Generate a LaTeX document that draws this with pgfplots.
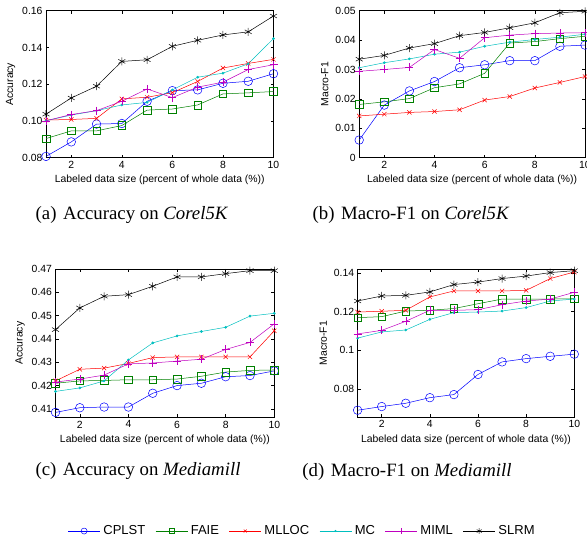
\documentclass[border=0pt]{standalone}
\usepackage{fontspec}
\setmainfont{Liberation Sans}
\newfontfamily\capfont{Liberation Serif}
\usepackage{pgfplots}
\usepackage{pgfplotstable}
\pgfplotsset{compat=1.18}

\definecolor{mgreen}{rgb}{0,0.5,0}
\definecolor{mcyan}{rgb}{0,0.75,0.75}
\definecolor{mmag}{rgb}{0.75,0,0.75}

% Corel5K accuracy
\pgfplotstableread{
x  cplst  faie   mlloc  mc     miml   slrm
1  0.0807 0.0904 0.1005 0.1001 0.1001 0.1037
2  0.0886 0.0946 0.1008 0.1032 0.1035 0.1125
3  0.0983 0.0946 0.1014 0.1056 0.1056 0.1189
4  0.0986 0.0975 0.1120 0.1087 0.1107 0.1324
5  0.1107 0.1059 0.1129 0.1101 0.1174 0.1333
6  0.1165 0.1065 0.1154 0.1169 0.1127 0.1406
7  0.1169 0.1087 0.1215 0.1238 0.1184 0.1439
8  0.1205 0.1147 0.1288 0.1260 0.1211 0.1468
9  0.1216 0.1153 0.1313 0.1311 0.1280 0.1485
10 0.1257 0.1160 0.1335 0.1448 0.1306 0.1571
}\corelacc
% Corel5K macro-F1
\pgfplotstableread{
x  cplst  faie   mlloc  mc     miml   slrm
1  0.0060 0.0181 0.0142 0.0306 0.0294 0.0335
2  0.0179 0.0190 0.0148 0.0323 0.0300 0.0348
3  0.0227 0.0201 0.0154 0.0336 0.0307 0.0373
4  0.0259 0.0238 0.0157 0.0352 0.0368 0.0388
5  0.0306 0.0251 0.0163 0.0359 0.0338 0.0415
6  0.0316 0.0287 0.0196 0.0379 0.0408 0.0426
7  0.0330 0.0390 0.0208 0.0393 0.0417 0.0442
8  0.0330 0.0395 0.0237 0.0402 0.0422 0.0459
9  0.0379 0.0405 0.0256 0.0410 0.0424 0.0493
10 0.0383 0.0413 0.0276 0.0420 0.0425 0.0498
}\corelf
% Mediamill accuracy
\pgfplotstableread{
x  cplst  faie   mlloc  mc     miml   slrm
1  0.4085 0.4210 0.4220 0.4175 0.4215 0.4440
2  0.4105 0.4220 0.4270 0.4190 0.4228 0.4533
3  0.4108 0.4222 0.4275 0.4220 0.4245 0.4583
4  0.4108 0.4225 0.4295 0.4310 0.4293 0.4590
5  0.4167 0.4225 0.4320 0.4383 0.4297 0.4626
6  0.4200 0.4228 0.4323 0.4413 0.4305 0.4666
7  0.4210 0.4240 0.4323 0.4432 0.4313 0.4666
8  0.4238 0.4258 0.4323 0.4450 0.4355 0.4680
9  0.4243 0.4265 0.4323 0.4498 0.4385 0.4693
10 0.4263 0.4267 0.4435 0.4510 0.4465 0.4693
}\mediaacc
% Mediamill macro-F1
\pgfplotstableread{
x  cplst  faie   mlloc  mc     miml   slrm
1  0.0690 0.1169 0.1198 0.1063 0.1085 0.1255
2  0.0709 0.1174 0.1202 0.1095 0.1103 0.1281
3  0.0726 0.1203 0.1207 0.1105 0.1150 0.1284
4  0.0755 0.1207 0.1276 0.1160 0.1207 0.1302
5  0.0771 0.1216 0.1307 0.1195 0.1207 0.1340
6  0.0875 0.1241 0.1307 0.1198 0.1210 0.1353
7  0.0940 0.1265 0.1307 0.1203 0.1236 0.1371
8  0.0957 0.1265 0.1310 0.1221 0.1255 0.1384
9  0.0969 0.1265 0.1371 0.1255 0.1265 0.1402
10 0.0980 0.1267 0.1405 0.1265 0.1300 0.1412
}\mediaf

\pgfplotsset{
  panel/.style={
    scale only axis, xmin=1, xmax=10, xtick={2,4,6,8,10},
    tick align=inside, major tick length=3pt,
    tick style={black, line width=0.4pt},
    axis line style={line width=0.4pt},
    scaled y ticks=false,
    /pgf/number format/assume math mode=true,
    ticklabel style={font=\fontsize{10.4}{12}\selectfont},
    label style={font=\fontsize{10.4}{12}\selectfont},
    xlabel={Labeled data size (percent of whole data (\%))},
    clip=false,
    legend image code/.code={
      \draw[mark repeat=2, mark phase=2, #1, every mark/.append style={scale=0.7}]
        plot coordinates {(0pt,0pt) (16pt,0pt) (32pt,0pt)};
    },
  },
  cplst/.style={blue, line width=0.5pt, mark=o, mark size=4.3pt, mark options={solid}},
  faie/.style={mgreen, line width=0.5pt, mark=square, mark size=3.8pt, mark options={solid}},
  mlloc/.style={red, line width=0.5pt, mark=x, mark size=3pt, mark options={solid}},
  mc/.style={mcyan, line width=0.5pt, mark=*, mark size=1.1pt, mark options={solid}},
  miml/.style={mmag, line width=0.5pt, mark=+, mark size=4pt, mark options={solid}},
  slrm/.style={black, line width=0.5pt, mark=asterisk, mark size=4pt, mark options={solid}},
}

\newcommand{\allseries}[1]{%
  \addplot[cplst] table[x=x, y=cplst] {#1};
  \addplot[faie] table[x=x, y=faie] {#1};
  \addplot[mlloc] table[x=x, y=mlloc] {#1};
  \addplot[mc] table[x=x, y=mc] {#1};
  \addplot[miml] table[x=x, y=miml] {#1};
  \addplot[slrm] table[x=x, y=slrm] {#1};
}

\begin{document}
\begin{tikzpicture}
\useasboundingbox (0pt,0pt) rectangle (587pt,541pt);

% (a)
\begin{axis}[panel, at={(46pt,530.3pt)}, anchor=north west,
  width=227.5pt, height=147pt,
  ymin=0.08, ymax=0.16, ytick={0.08,0.10,0.12,0.14,0.16},
  yticklabels={0.08,0.10,0.12,0.14,0.16}, ylabel={Accuracy}]
\allseries{\corelacc}
\end{axis}

% (b)
\begin{axis}[panel, at={(359.2pt,530.3pt)}, anchor=north west,
  width=225.8pt, height=147pt,
  ymin=0, ymax=0.05, ytick={0,0.01,0.02,0.03,0.04,0.05},
  yticklabels={0,0.01,0.02,0.03,0.04,0.05}, ylabel={Macro-F1}]
\allseries{\corelf}
\end{axis}

% (c)
\begin{axis}[panel, at={(55.5pt,272pt)}, anchor=north west,
  width=218.8pt, height=148.3pt,
  ymin=0.4064, ymax=0.47, ytick={0.41,0.42,0.43,0.44,0.45,0.46,0.47},
  yticklabels={0.41,0.42,0.43,0.44,0.45,0.46,0.47}, ylabel={Accuracy},
  legend columns=6,
  legend style={at={(1.13,-0.767)}, anchor=center, draw=none, fill=none,
    font=\fontsize{13}{15}\selectfont,
    nodes={inner xsep=3pt, inner ysep=1pt},
    /tikz/every even column/.append style={column sep=7pt}},
  legend cell align=left]
\allseries{\mediaacc}
\legend{CPLST, FAIE, MLLOC, MC, MIML, SLRM}
\end{axis}

% (d)
\begin{axis}[panel, at={(357.6pt,271.7pt)}, anchor=north west,
  width=216.7pt, height=147.7pt,
  ymin=0.0655, ymax=0.1419, ytick={0.08,0.1,0.12,0.14},
  yticklabels={0.08,0.1,0.12,0.14}, ylabel={Macro-F1}]
\allseries{\mediaf}
\end{axis}

% sub-captions
\node[anchor=center, font=\capfont\fontsize{18.8}{21}\selectfont] at (132pt,326pt) {(a)\hspace{0.35em}Accuracy on \textit{Corel5K}};
\node[anchor=center, font=\capfont\fontsize{18.8}{21}\selectfont] at (411pt,326pt) {(b)\hspace{0.35em}Macro-F1 on \textit{Corel5K}};
\node[anchor=center, font=\capfont\fontsize{18.8}{21}\selectfont] at (138pt,69.5pt) {(c)\hspace{0.35em}Accuracy on \textit{Mediamill}};
\node[anchor=center, font=\capfont\fontsize{18.8}{21}\selectfont] at (407pt,69.5pt) {(d)\hspace{0.35em}Macro-F1 on \textit{Mediamill}};
\end{tikzpicture}
\end{document}
